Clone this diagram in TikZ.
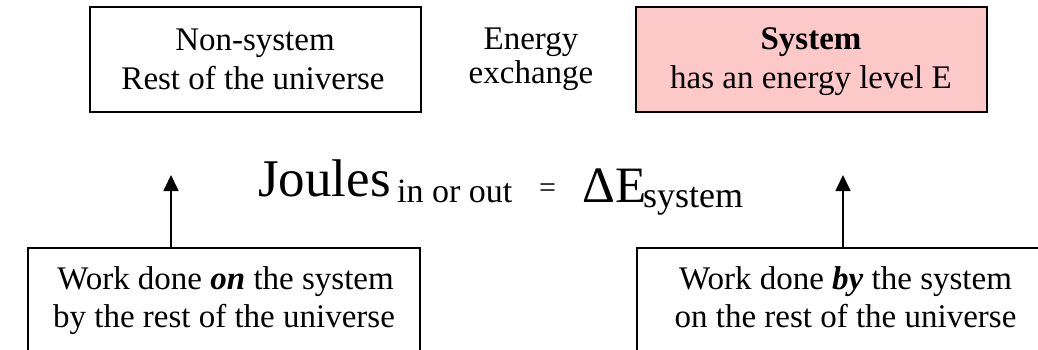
\documentclass[tikz,border=0pt]{standalone}
\usepackage{fontspec}
\setmainfont{Liberation Serif}
\usetikzlibrary{arrows.meta}
\definecolor{syspink}{RGB}{252,200,200}
\tikzset{
  box/.style={draw=black, line width=1.7pt, inner sep=0pt},
  txt/.style={inner sep=0pt, anchor=base, font=\fontsize{33}{39}\selectfont},
  arr/.style={line width=1.7pt, -{Triangle[width=15pt,length=16pt]}}
}
\begin{document}
\begin{tikzpicture}[x=1pt,y=-1pt]
\useasboundingbox (0,0) rectangle (1038,349);
\clip (0,0) rectangle (1038,349);
% top boxes
\node[box, minimum width=331pt, minimum height=105pt] (ns) at (255.5,59.5) {};
\node[box, fill=syspink, minimum width=351pt, minimum height=105pt] (sys) at (811.5,59.5) {};
\node[txt] (ns1) at (255,50) {Non-system};
\node[txt] (ns2) at (253,89) {Rest of the universe};
\node[txt] (ex1) at (531,49) {Energy};
\node[txt] (ex2) at (531,83) {exchange};
\node[txt] (sy1) at (811,49) {\bfseries System};
\node[txt] (sy2) at (811,88) {has an energy level E};
% equation
\node[inner sep=0pt, anchor=base west, font=\fontsize{53}{60}\selectfont] (joules) at (258,196) {Joules};
\node[inner sep=0pt, anchor=base west, font=\fontsize{34}{40}\selectfont] (inout) at (397,202) {in or out};
\node[inner sep=0pt, anchor=base west, font=\fontsize{30}{36}\selectfont] (eq) at (539,197) {=};
\node[inner sep=0pt, anchor=base west, font=\fontsize{51}{60}\selectfont] (dE) at (582,202) {ΔE};
\node[inner sep=0pt, anchor=base west, font=\fontsize{36}{42}\selectfont] (sysub) at (643,207) {system};
% bottom boxes
\node[box, minimum width=392pt, minimum height=130pt] (bl) at (224,313) {};
\node[box, minimum width=417pt, minimum height=130pt] (br) at (845.5,313) {};
\node[txt] (bl1) at (225.5,289) {Work done \textbf{\itshape on} the system};
\node[txt] (bl2) at (224,327) {by the rest of the universe};
\node[txt] (br1) at (845.5,289) {Work done \textbf{\itshape by} the system};
\node[txt] (br2) at (845.5,327) {on the rest of the universe};
% arrows
\coordinate (tipL) at (171,175);
\coordinate (tipR) at (843,175);
\draw[arr] (bl.north -| tipL) -- (tipL);
\draw[arr] (br.north -| tipR) -- (tipR);
\end{tikzpicture}
\end{document}
